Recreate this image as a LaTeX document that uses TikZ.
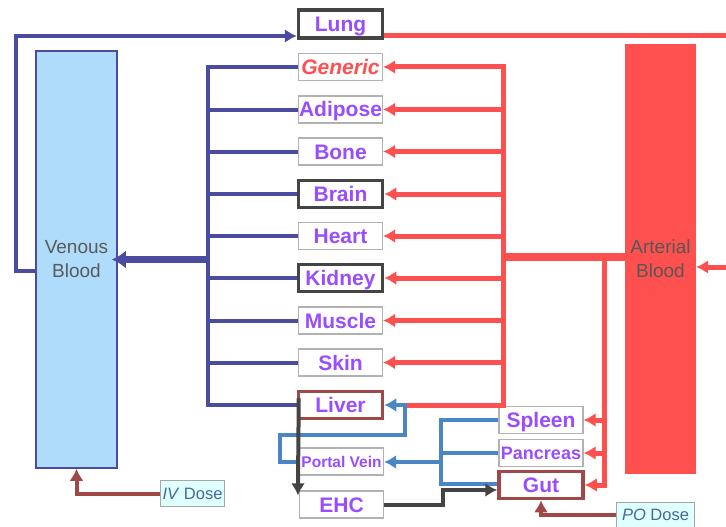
\documentclass[tikz,border=0pt]{standalone}
\usepackage{fontspec}
\setmainfont{Liberation Sans}
\usepackage{tikz}
\usetikzlibrary{arrows.meta}

\definecolor{organpurple}{RGB}{153,77,255}
\definecolor{venousline}{RGB}{75,75,160}
\definecolor{venousfill}{RGB}{174,220,250}
\definecolor{arterialred}{RGB}{255,80,80}
\definecolor{portalblue}{RGB}{74,134,197}
\definecolor{darkline}{RGB}{68,68,68}
\definecolor{dosered}{RGB}{160,72,72}
\definecolor{dosefill}{RGB}{224,255,255}
\definecolor{dosetext}{RGB}{68,104,160}
\definecolor{bloodtext}{RGB}{90,90,90}

\begin{document}
\begin{tikzpicture}[
				x=1pt, y=-1pt,
				organ style/.style={
					draw=gray!60,
					fill=white,
					line width=1.2pt,
					minimum width=84pt,
					minimum height=27pt,
					inner sep=0pt,
					text height=15pt,
					text depth=0pt,
					font=\bfseries\fontsize{21}{21}\selectfont,
					text=organpurple
				},
				key organ/.style={organ style, draw=darkline, line width=3.5pt},
				liver organ/.style={organ style, draw=dosered, line width=3.5pt},
				small organ/.style={organ style, text height=12pt, font=\bfseries\fontsize{18}{18}\selectfont},
				blood style/.style={
					align=center,
					inner sep=0pt,
					font=\fontsize{19}{24}\selectfont,
					text=bloodtext
				},
				dose style/.style={
					draw=gray!70,
					fill=dosefill,
					line width=1pt,
					inner sep=0pt,
					minimum height=26pt,
					font=\fontsize{16.5}{16.5}\selectfont,
					text=dosetext
				},
				vein line/.style={draw=venousline, line width=4pt},
				artery line/.style={draw=arterialred, line width=5pt},
				portal line/.style={draw=portalblue, line width=4pt},
				bile line/.style={draw=darkline, line width=4pt},
				dose line/.style={draw=dosered, line width=4pt},
				>={Latex[length=12pt,width=14pt]}
				]
				\useasboundingbox (0,0) rectangle (726,527);
				
				\node[blood style, draw=venousline, line width=1.5pt, fill=venousfill,
					minimum width=81pt, minimum height=417pt] (venous) at (76.5,259.5)
				{Venous\\Blood};
				\node[blood style, fill=arterialred, text=darkline!90,
					minimum width=71pt, minimum height=430pt] (arterial) at (660.5,259)
				{Arterial\\Blood};
				
				\node[key organ, minimum height=28pt] (lung) at (340.5,24) {Lung};
				\node[organ style, text=arterialred, font=\bfseries\itshape\fontsize{21}{21}\selectfont] (generic) at (340.5,67) {Generic};
				\node[organ style] (adipose) at (340.5,109.5) {Adipose};
				\node[organ style] (bone) at (340.5,151.5) {Bone};
				\node[key organ] (brain) at (340.5,194) {Brain};
				\node[organ style] (heart) at (340.5,236) {Heart};
				\node[key organ] (kidney) at (340.5,278) {Kidney};
				\node[organ style] (muscle) at (340.5,320.5) {Muscle};
				\node[organ style] (skin) at (340.5,362.5) {Skin};
				\node[liver organ] (liver) at (340.5,405) {Liver};
				
				\node[small organ, text height=11pt, font=\bfseries\fontsize{15.5}{15.5}\selectfont] (portalvein) at (341.5,461.5) {Portal Vein};
				\node[organ style] (ehc) at (341.5,504.5) {EHC};
				\node[organ style] (spleen) at (541,420) {Spleen};
				\node[small organ] (pancreas) at (541,453) {Pancreas};
				\node[liver organ] (gut) at (541,485) {Gut};
				
				\node[dose style, minimum width=64pt] (ivdose) at (192.5,493.5) {\textit{IV} Dose};
				\node[dose style, minimum width=78pt, minimum height=25pt] (podose) at (655.5,514.5) {\textit{PO} Dose};
				
				\coordinate (lung out) at (726,36);
				\coordinate (arterial in) at (726,267);
				
				% venous side
				\draw[vein line,->] (venous.west |- 0,271) -| (16,36) -- (lung.west |- 0,36);
				\foreach \organ in {generic,adipose,bone,brain,heart,kidney,muscle,skin,liver}{
					\draw[vein line] (\organ.west) -- (\organ.west -| 208,0);
				}
				\draw[vein line, line cap=rect] (generic.west -| 208,0) -- (liver.west -| 208,0);
				\draw[vein line, line width=7pt, -{Latex[length=14pt,width=18pt]}] (venous.east -| 208,0) -- ([xshift=-6pt]venous.east);
				
				% arterial side
				\draw[artery line] (lung.east |- 0,36) -- (lung out);
				\draw[artery line,->] (arterial in) -- (arterial.east |- 0,267);
				\draw[artery line, line width=7.5pt] (arterial.west |- 0,257) -- (503,257);
				\foreach \organ in {generic,adipose,bone,brain,heart,kidney,muscle,skin}{
					\draw[artery line,->] (\organ.east -| 503,0) -- (\organ.east);
				}
				\draw[artery line, line cap=rect] (generic.east -| 503,0) -- (liver.east -| 503,0) -- (liver.east -| 408,0);
				\draw[artery line, line cap=rect] (604,257) -- (gut.east -| 604,0);
				\foreach \organ in {spleen,pancreas,gut}{
					\draw[artery line,->] (\organ.east -| 604,0) -- (\organ.east);
				}
				
				% portal and bile
				\draw[portal line] (spleen.west) -| (441,484) -- (gut.west |- 0,484);
				\draw[portal line] (pancreas.west) -- (pancreas.west -| 441,0);
				\draw[portal line,->] (441,462) -- (portalvein.east |- 0,462);
				\draw[portal line,->] (portalvein.west) -- ++(-19,0) |- (405,435) |- (liver.east);
				\draw[bile line,->] ([xshift=2pt,yshift=22pt]liver.south west) -- ([xshift=-1pt,yshift=-5pt]ehc.north west);
				\draw[bile line,->] (ehc.east) -| (443,490) -- (gut.west |- 0,490);
				
				% doses
				\draw[dose line,->] (ivdose.west) -| (venous.south);
				\draw[dose line,->] (podose.west) -| (gut.south);
				
			\end{tikzpicture}
\end{document}
